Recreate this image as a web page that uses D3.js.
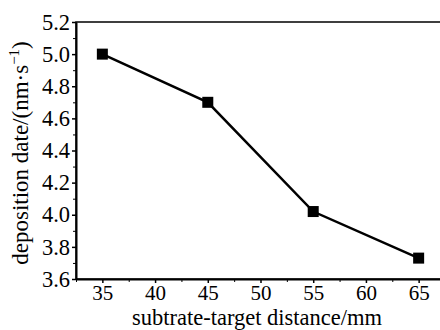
<!DOCTYPE html>
<html>
<head>
<meta charset="utf-8">
<script src="https://cdn.jsdelivr.net/npm/d3@7"></script>
<style>
  body { margin: 0; background: #fff; }
  svg { display: block; }
  svg text { font-family: 'Liberation Serif', 'DejaVu Serif', serif !important; }
</style>
</head>
<body>
<div id="chart"></div>
<script>
const distances = [35, 45, 55, 65];
const rates = [5.0, 4.7, 4.02, 3.73];
const xTicks = [35, 40, 45, 50, 55, 60, 65];
const yTicks = [3.6, 3.8, 4.0, 4.2, 4.4, 4.6, 4.8, 5.0, 5.2];
const xTitle = 'subtrate-target distance/mm';

const width = 440;
const height = 330;
const margin = { left: 76, top: 22, right: -5, bottom: 51 };
const serif = "'Liberation Serif', 'DejaVu Serif', serif";

const svg = d3.select('#chart')
  .append('svg')
  .attr('width', width)
  .attr('height', height);

const x = d3.scaleLinear()
  .domain([32.5, 67.5])
  .range([margin.left, width - margin.right]);
const y = d3.scaleLinear()
  .domain([3.6, 5.2])
  .range([height - margin.bottom, margin.top]);

// frame
svg.append('rect')
  .attr('x', x(32.5))
  .attr('y', y(5.2))
  .attr('width', x(67.5) - x(32.5))
  .attr('height', y(3.6) - y(5.2))
  .attr('fill', 'none')
  .attr('stroke', '#000')
  .attr('stroke-width', 1.5);

// minor ticks
const xMinor = d3.range(32.5, 67.6, 2.5).filter(v => !xTicks.includes(v));
const yMinor = d3.range(3.7, 5.2, 0.2);

svg.append('g')
  .attr('transform', `translate(0,${y(3.6)})`)
  .call(d3.axisBottom(x).tickValues(xMinor).tickSize(3).tickFormat(''))
  .call(g => g.select('.domain').remove());

svg.append('g')
  .attr('transform', `translate(${x(32.5)},0)`)
  .call(d3.axisLeft(y).tickValues(yMinor).tickSize(3).tickFormat(''))
  .call(g => g.select('.domain').remove());

// major axes
const xAxis = svg.append('g')
  .attr('transform', `translate(0,${y(3.6)})`)
  .call(d3.axisBottom(x).tickValues(xTicks).tickSize(4).tickPadding(2).tickSizeOuter(0));
xAxis.select('.domain').attr('stroke-width', 2);
xAxis.selectAll('.tick line').attr('stroke-width', 1.5);
xAxis.selectAll('text')
  .style('font-family', serif)
  .attr('font-size', 21)
  .attr('fill', '#000');

const yAxis = svg.append('g')
  .attr('transform', `translate(${x(32.5)},0)`)
  .call(d3.axisLeft(y).tickValues(yTicks).tickSize(4).tickPadding(2).tickSizeOuter(0)
    .tickFormat(d3.format('.1f')));
yAxis.select('.domain').attr('stroke-width', 2);
yAxis.selectAll('.tick line').attr('stroke-width', 1.5);
yAxis.selectAll('text')
  .style('font-family', serif)
  .attr('font-size', 22.5)
  .attr('fill', '#000');

// data line
const points = distances.map((d, i) => [d, rates[i]]);
svg.append('path')
  .datum(points)
  .attr('fill', 'none')
  .attr('stroke', '#000')
  .attr('stroke-width', 2.5)
  .attr('d', d3.line().x(d => x(d[0])).y(d => y(d[1])));

const size = 11;
svg.selectAll('.marker')
  .data(points)
  .enter()
  .append('rect')
  .attr('class', 'marker')
  .attr('x', d => x(d[0]) - size / 2)
  .attr('y', d => y(d[1]) - size / 2)
  .attr('width', size)
  .attr('height', size)
  .attr('fill', '#000');

// titles
svg.append('text')
  .attr('x', 257)
  .attr('y', 325)
  .attr('text-anchor', 'middle')
  .attr('font-size', 22.5)
  .style('font-family', serif)
  .text(xTitle);

const yTitle = svg.append('text')
  .attr('transform', `translate(28,153) rotate(-90)`)
  .attr('text-anchor', 'middle')
  .attr('font-size', 23)
  .style('font-family', serif);
yTitle.append('tspan').text('deposition date/(nm·s');
yTitle.append('tspan').attr('font-size', 15).attr('dy', -9).text('−1');
yTitle.append('tspan').attr('dy', 9).text(')');
</script>
</body>
</html>
